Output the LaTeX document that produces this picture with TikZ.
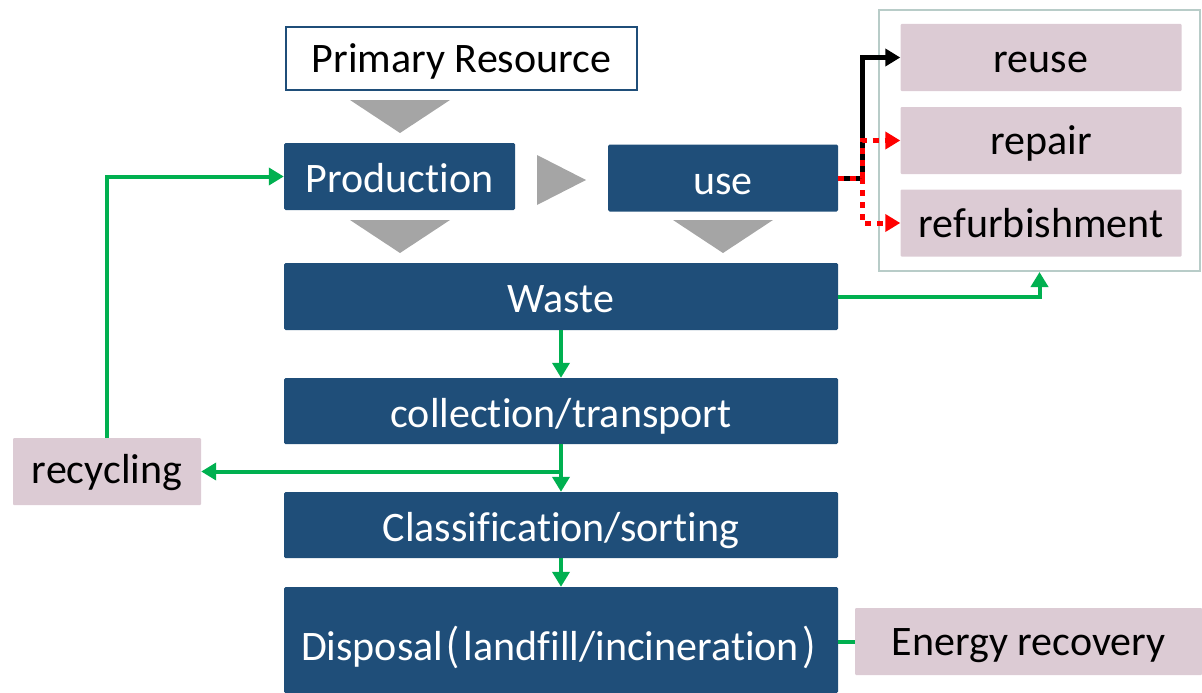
\documentclass[tikz,border=0pt]{standalone}
\usepackage{fontspec}
\setmainfont[Ligatures=NoCommon]{Carlito}
\newfontfamily\cjk[CharacterWidth=Proportional]{Noto Sans CJK SC}
\usetikzlibrary{arrows.meta}
\definecolor{navy}{RGB}{31,78,121}
\definecolor{pinkbox}{RGB}{220,203,212}
\definecolor{grn}{RGB}{0,176,80}
\definecolor{tri}{RGB}{165,165,165}
\definecolor{framec}{RGB}{184,204,200}
\begin{document}
\begin{tikzpicture}[x=1pt,y=-1pt,
  bluebox/.style={fill=navy, text=white, rounded corners=1.5pt, inner sep=0pt, text height=32pt, text depth=0pt, font=\fontsize{42}{50}\selectfont},
  pinkb/.style={fill=pinkbox, text=black, rounded corners=1pt, inner sep=0pt, minimum width=281pt, minimum height=67pt, text height=28pt, text depth=0pt, font=\fontsize{42}{50}\selectfont},
  garrow/.style={draw=grn, line width=4pt, -{Triangle[width=17pt,length=15pt]}},
  tris/.style={fill=tri}]
\useasboundingbox (0,0) rectangle (1202,693);
% triangles
\fill[tris] (350,100) -- (450,100) -- (400,133) -- cycle;
\fill[tris] (537,155) -- (586,180) -- (537,205) -- cycle;
\fill[tris] (350,220) -- (450,220) -- (400,253) -- cycle;
\fill[tris] (673,220) -- (773,220) -- (723,253) -- cycle;
% nodes
\node[draw=navy, line width=2pt, fill=white, inner sep=0pt, minimum width=351pt, minimum height=63pt, text height=29pt, text depth=0pt, font=\fontsize{42}{50}\selectfont] (prim) at (461.5,58.5) {Primary Resource};
\node[bluebox, minimum width=231pt, minimum height=67pt] (prod) at (399.5,176.5) {Production};
\node[bluebox, minimum width=230pt, minimum height=67pt] (use) at (723,178) {use};
\node[bluebox, minimum width=554pt, minimum height=67pt] (waste) at (561,296.5) {Waste};
\node[bluebox, minimum width=554pt, minimum height=66pt] (coll) at (561,411) {collection/transport};
\node[bluebox, minimum width=554pt, minimum height=66pt] (class) at (561,525) {Classification/sorting};
\node[bluebox, minimum width=554pt, minimum height=106pt, text height=40pt] (disp) at (561,640) {Disposal\kern0.05em{\cjk （}\kern0.1em landfill/incineration\kern0.08em{\cjk ）}\kern0.1em};
\node[pinkb, minimum width=188pt, text height=24pt] (recyc) at (107,471.5) {recycling};
\node[pinkb, minimum width=347pt, text height=27pt] (energy) at (1028.5,641.5) {Energy recovery};
\node[draw=framec, line width=2pt, minimum width=321pt, minimum height=261pt, inner sep=0pt] (frame) at (1039.5,140.5) {};
\node[pinkb, text height=31pt] (reuse) at (1041,57.5) {reuse};
\node[pinkb] (repair) at (1041,140.5) {repair};
\node[pinkb] (refurb) at (1041,223) {refurbishment};
% connectors
\draw[garrow] (waste.south) -- (coll.north);
\draw[garrow] (coll.south) -- (class.north);
\draw[garrow] (coll.south) |- (recyc.east);
\draw[garrow] (class.south) -- (disp.north);
\draw[garrow] (recyc.north) |- (prod.west);
\draw[garrow] (waste.east) -| (frame.south);
\draw[draw=grn, line width=4pt] (energy.west) -- (disp.east |- energy.west);
\draw[black, line width=5pt, -{Triangle[width=17pt,length=15pt]}] (use.east) -- ++(24,0) |- (reuse.west);
\draw[red, line width=5pt, dash pattern=on 6pt off 6pt, -{Triangle[width=17pt,length=15pt]}] (use.east) -- ++(24,0) |- (repair.west);
\draw[red, line width=5pt, dash pattern=on 6pt off 6pt, -{Triangle[width=17pt,length=15pt]}] (use.east) -- ++(24,0) |- (refurb.west);
\end{tikzpicture}
\end{document}
